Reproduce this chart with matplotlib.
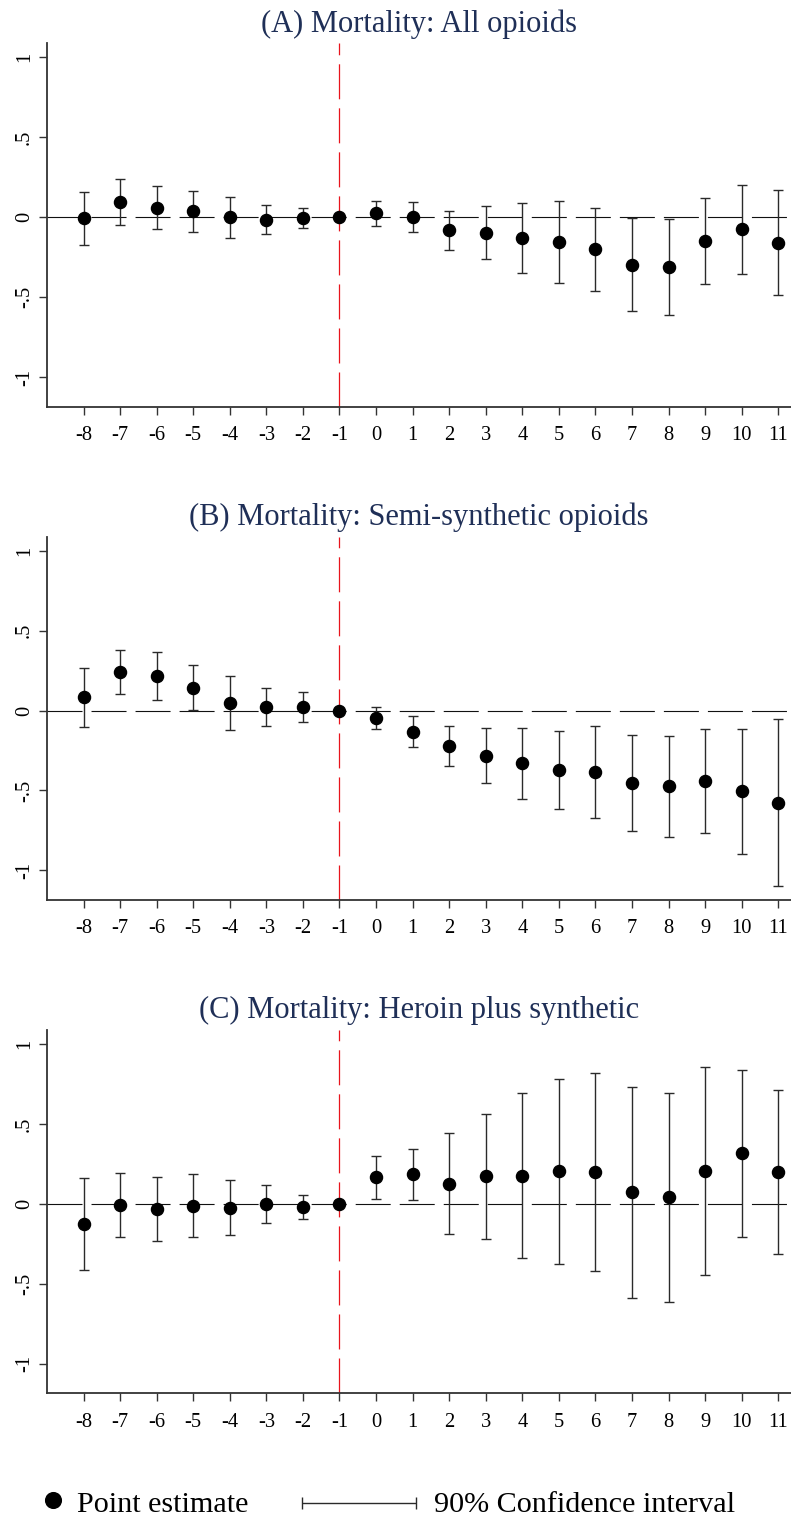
import matplotlib
matplotlib.use("Agg")
import matplotlib.pyplot as plt
import numpy as np

plt.rcParams['font.family'] = ['Liberation Serif', 'DejaVu Serif']
plt.rcParams['lines.scale_dashes'] = False

# ---------------- data ----------------
periods = [-8, -7, -6, -5, -4, -3, -2, -1, 0, 1, 2, 3, 4, 5, 6, 7, 8, 9, 10, 11]
xtick_labels = [str(p) for p in periods]
ytick_values = [-1, -0.5, 0, 0.5, 1]
ytick_labels = ["-1", "-.5", "0", ".5", "1"]

titles = ["(A) Mortality: All opioids",
          "(B) Mortality: Semi-synthetic opioids",
          "(C) Mortality: Heroin plus synthetic"]

# Panel A: All opioids  (None = reference period, no interval)
est_a = [-0.006, 0.096, 0.060, 0.038, -0.002, -0.017, -0.008, 0.0, 0.025, 0.0,
         -0.083, -0.098, -0.133, -0.154, -0.202, -0.298, -0.312, -0.148, -0.077, -0.160]
lo_a = [-0.173, -0.050, -0.075, -0.090, -0.129, -0.104, -0.065, None, -0.054, -0.094,
        -0.208, -0.260, -0.352, -0.412, -0.465, -0.587, -0.612, -0.417, -0.356, -0.490]
hi_a = [0.160, 0.238, 0.194, 0.163, 0.127, 0.075, 0.054, None, 0.098, 0.092,
        0.040, 0.067, 0.088, 0.102, 0.060, -0.008, -0.012, 0.119, 0.202, 0.171]

# Panel B: Semi-synthetic opioids
est_b = [0.084, 0.240, 0.217, 0.144, 0.048, 0.023, 0.021, 0.0, -0.046, -0.132,
         -0.223, -0.282, -0.330, -0.374, -0.384, -0.455, -0.474, -0.440, -0.505, -0.576]
lo_b = [-0.102, 0.104, 0.067, 0.004, -0.119, -0.098, -0.069, None, -0.113, -0.230,
        -0.349, -0.453, -0.551, -0.618, -0.672, -0.756, -0.791, -0.764, -0.896, -1.098]
hi_b = [0.269, 0.378, 0.367, 0.286, 0.213, 0.144, 0.113, None, 0.021, -0.036,
        -0.098, -0.109, -0.109, -0.127, -0.096, -0.154, -0.159, -0.117, -0.113, -0.056]

# Panel C: Heroin plus synthetic
est_c = [-0.127, -0.010, -0.033, -0.013, -0.023, -0.002, -0.021, 0.0, 0.165, 0.184,
         0.127, 0.173, 0.175, 0.205, 0.200, 0.071, 0.040, 0.205, 0.315, 0.200]
lo_c = [-0.415, -0.209, -0.232, -0.209, -0.194, -0.121, -0.096, None, 0.031, 0.023,
        -0.188, -0.217, -0.340, -0.374, -0.420, -0.587, -0.616, -0.447, -0.207, -0.313]
hi_c = [0.163, 0.190, 0.167, 0.186, 0.146, 0.119, 0.056, None, 0.299, 0.342,
        0.440, 0.564, 0.691, 0.783, 0.820, 0.731, 0.693, 0.854, 0.835, 0.714]

panels = [(est_a, lo_a, hi_a), (est_b, lo_b, hi_b), (est_c, lo_c, hi_c)]
event_period = -1

legend_labels = ["Point estimate", "90% Confidence interval"]

# ---------------- layout ----------------
W, H = 791, 1518
fig = plt.figure(figsize=(W / 100, H / 100), dpi=100)
fig.patch.set_facecolor("white")

left_px, right_px = 47, 791
tops_px = [43.3, 536.7, 1030.0]
ax_h_px = 363.4
xlim = (-9, 11.35)
ylim = (-1.186, 1.0875)
title_color = "#1f2f57"
axis_color = "#333333"
dash = (0, (25.2, 6.5))

for (est, lo, hi), top, title in zip(panels, tops_px, titles):
    bottom = H - (top + ax_h_px)
    ax = fig.add_axes([left_px / W, bottom / H, (right_px - left_px) / W, ax_h_px / H])
    ax.set_xlim(*xlim)
    ax.set_ylim(*ylim)
    for s in ["top", "right"]:
        ax.spines[s].set_visible(False)
    for s in ["left", "bottom"]:
        ax.spines[s].set_color(axis_color)
        ax.spines[s].set_linewidth(1.3)

    # zero line and event line
    ax.axhline(0, color="#111111", lw=0.8, ls=dash, zorder=1)
    ax.plot([event_period, event_period], list(ylim), color="#e8141c", lw=0.9,
            ls=dash, zorder=2, clip_on=False)

    # confidence intervals
    xs = [p for p, l in zip(periods, lo) if l is not None]
    ys = [e for e, l in zip(est, lo) if l is not None]
    lows = [l for l in lo if l is not None]
    highs = [h for h in hi if h is not None]
    yerr = np.array([np.array(ys) - np.array(lows), np.array(highs) - np.array(ys)])
    ax.errorbar(xs, ys, yerr=yerr, fmt="none", ecolor="#2a2a2a", elinewidth=1.0,
                capsize=3.6, capthick=1.0, zorder=3)
    # point estimates
    ax.plot(periods, est, "o", color="black", markersize=8.7, zorder=4)

    ax.set_xticks(periods, xtick_labels, fontsize=14.8)
    ax.set_yticks(ytick_values, ytick_labels, fontsize=14.8, rotation=90, va="center")
    ax.tick_params(axis="both", direction="out", length=5.8, width=1.0,
                   color=axis_color, labelcolor="black")
    ax.tick_params(axis="x", pad=8.0)
    ax.tick_params(axis="y", pad=3.5)

    ax.set_title(title, fontsize=22, color=title_color, pad=8.4)

# ---------------- legend ----------------
lax = fig.add_axes([0, 0, 1, 1])
lax.set_xlim(0, W)
lax.set_ylim(H, 0)
lax.axis("off")
lax.plot([53.3], [1499.5], "o", color="black", markersize=11.3)
lax.text(77, 1511.7, legend_labels[0], fontsize=21.7, va="baseline", ha="left")
lax.errorbar([359], [1503.3], xerr=[57], fmt="none", ecolor="#2a2a2a",
             elinewidth=1.0, capsize=4.3, capthick=1.0)
lax.text(434, 1511.7, legend_labels[1], fontsize=21.7, va="baseline", ha="left")

fig.savefig("out.png", dpi=100, facecolor="white")
